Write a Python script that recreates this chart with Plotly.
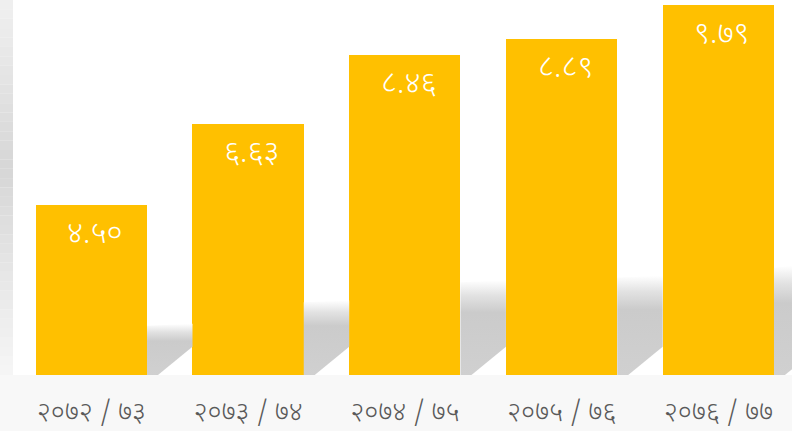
import plotly.graph_objects as go

categories = ["२०७२ / ७३", "२०७३ / ७४", "२०७४ / ७५", "२०७५ / ७६", "२०७६ / ७७"]
values = [4.50, 6.63, 8.46, 8.89, 9.79]
value_labels = ["४.५०", "६.६३", "८.४६", "८.८९", "९.७९"]

BAR_COLOR = "#FFC000"
DEVA_FONT = "Noto Sans Devanagari, Lohit Devanagari, Mangal, Noto Sans, sans-serif"
BAR_WIDTH = 0.71
X_MIN, X_MAX = -0.5, 4.47
Y_MAX = 9.92

fig = go.Figure()

# soft cast shadows behind the bars (computed from bar data)
half = BAR_WIDTH / 2
gap = 1 - BAR_WIDTH
for i, v in enumerate(values):
    xr = i + half
    xn = min(xr + gap, X_MAX)
    top = 0.29 * v
    slope = 3.4  # y-units per x-unit for lower diagonal edge
    x0b = xr + 0.07
    yb = max(0.0, (xn - x0b) * slope)
    xs = [xr, xr, xn, xn, x0b, xr]
    ys = [0, top, top + 0.05, yb, 0, 0]
    fig.add_trace(go.Scatter(
        x=xs, y=ys, mode="lines", fill="toself",
        line=dict(width=0, color="rgba(0,0,0,0)"),
        fillgradient=dict(type="vertical", start=0, stop=top + 0.05,
                          colorscale=[[0, "#d0d0d0"], [0.66, "#cbcbcb"],
                                      [0.84, "#e2e2e2"], [1, "#ffffff"]]),
        hoverinfo="skip", showlegend=False,
    ))

fig.add_trace(go.Bar(
    x=list(range(len(values))), y=values, width=BAR_WIDTH,
    marker=dict(color=BAR_COLOR, line=dict(width=0)),
    hoverinfo="skip", showlegend=False,
))

for i, (v, t) in enumerate(zip(values, value_labels)):
    fig.add_annotation(x=i, y=v, text=t, showarrow=False, yanchor="top",
                       yshift=-8, xshift=4,
                       font=dict(family=DEVA_FONT, size=31, color="white", weight=300))

# left gradient strip
shapes = []
n = 40
stops = [(0.0, 0xf6), (0.55, 0xd6), (1.0, 0xf0)]  # (from bottom, gray level)
def level(t):
    for (a, ca), (b, cb) in zip(stops[:-1], stops[1:]):
        if a <= t <= b:
            return round(ca + (cb - ca) * (t - a) / (b - a))
    return stops[-1][1]
for k in range(n):
    y0 = k / n
    y1 = (k + 1) / n
    g = level((y0 + y1) / 2)
    shapes.append(dict(type="rect", xref="paper", yref="paper",
                       x0=-13 / 779, x1=0, y0=y0, y1=y1,
                       fillcolor=f"rgb({g},{g},{g})", line=dict(width=0), layer="below"))

fig.update_layout(
    width=792, height=431,
    margin=dict(l=13, r=0, t=0, b=56),
    paper_bgcolor="#f8f8f8", plot_bgcolor="white",
    shapes=shapes,
    bargap=0,
    xaxis=dict(range=[X_MIN, X_MAX], tickvals=list(range(len(categories))),
               ticktext=categories, showgrid=False, zeroline=False, showline=False,
               ticks="", ticklabelstandoff=18,
               tickfont=dict(family=DEVA_FONT, size=27, color="#5a5a5a", weight=300)),
    yaxis=dict(range=[0, Y_MAX], showgrid=False, zeroline=False, showline=False,
               showticklabels=False, ticks=""),
)

fig.write_html("out.html", config={"displayModeBar": False},
               post_script="document.body.style.margin='0px';")
